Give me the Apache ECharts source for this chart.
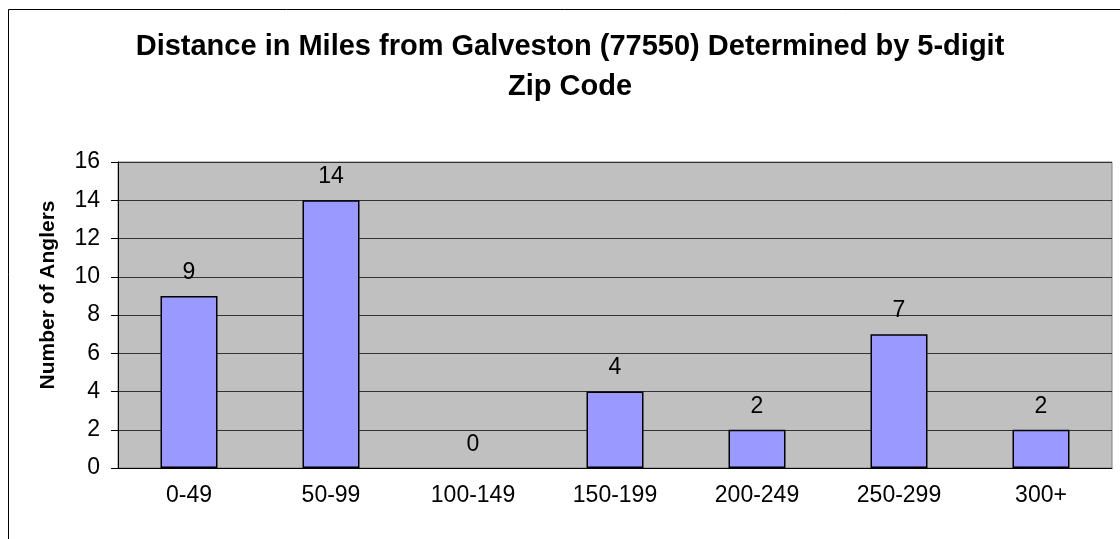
<!DOCTYPE html>
<html>
<head>
<meta charset="utf-8">
<title>Distance in Miles from Galveston</title>
<script src="https://cdn.jsdelivr.net/npm/echarts@6/dist/echarts.min.js"></script>
<style>
  html, body { margin: 0; padding: 0; background: #fff; }
  #main { width: 1120px; height: 539px; }
</style>
</head>
<body>
<div id="main"></div>
<script>
// 距离分组（英里）
var categories = ['0-49', '50-99', '100-149', '150-199', '200-249', '250-299', '300+']
// 钓鱼者人数
var anglers = [9, 14, 0, 4, 2, 7, 2]
var titleText = 'Distance in Miles from Galveston (77550) Determined by 5-digit\nZip Code'
var yName = 'Number of Anglers'

var font = 'Arial, "Liberation Sans", sans-serif'
var chart = echarts.init(document.getElementById('main'))
var option = {
  animation: false,
  backgroundColor: '#fff',
  title: {
    text: titleText,
    left: 570,
    top: 27,
    padding: 0,
    textAlign: 'center',
    textStyle: {
      fontFamily: font,
      fontSize: 29,
      fontWeight: 'bold',
      color: '#000',
      lineHeight: 40
    }
  },
  grid: {
    left: 118,
    top: 162,
    right: 8,
    bottom: 71,
    show: true,
    backgroundColor: '#C0C0C0',
    borderColor: '#808080',
    borderWidth: 1
  },
  xAxis: {
    type: 'category',
    data: categories,
    axisLine: { lineStyle: { color: '#000', width: 1 } },
    axisTick: { length: 7, lineStyle: { color: '#000' } },
    axisLabel: {
      fontFamily: font,
      fontSize: 23,
      color: '#000',
      margin: 16
    }
  },
  yAxis: {
    type: 'value',
    min: 0,
    max: 16,
    interval: 2,
    axisLine: { show: true, lineStyle: { color: '#000', width: 1 } },
    axisTick: { show: true, length: 7, lineStyle: { color: '#000' } },
    axisLabel: {
      fontFamily: font,
      fontSize: 23,
      color: '#000',
      margin: 18
    },
    splitLine: { lineStyle: { color: '#333', width: 1 } }
  },
  graphic: [
    {
      // 外框（左、上）
      type: 'polyline',
      shape: { points: [[8.5, 539], [8.5, 9.5], [1120, 9.5]] },
      style: { stroke: '#000', lineWidth: 1, fill: null }
    },
    {
      type: 'text',
      x: 48,
      y: 295,
      rotation: Math.PI / 2,
      style: {
        text: yName,
        fontFamily: font,
        fontSize: 21,
        fontWeight: 'bold',
        fill: '#000',
        align: 'center',
        verticalAlign: 'middle'
      }
    }
  ],
  series: [
    {
      type: 'bar',
      // 0 值不画边框
      data: anglers.map(function (v) {
        return v === 0 ? { value: v, itemStyle: { borderWidth: 0 } } : v
      }),
      barWidth: 57,
      itemStyle: {
        color: '#9999FF',
        borderColor: '#000',
        borderWidth: 1.5
      },
      label: {
        show: true,
        position: 'top',
        distance: 12,
        fontFamily: font,
        fontSize: 23,
        color: '#000'
      }
    }
  ]
}
chart.setOption(option)
</script>
</body>
</html>
